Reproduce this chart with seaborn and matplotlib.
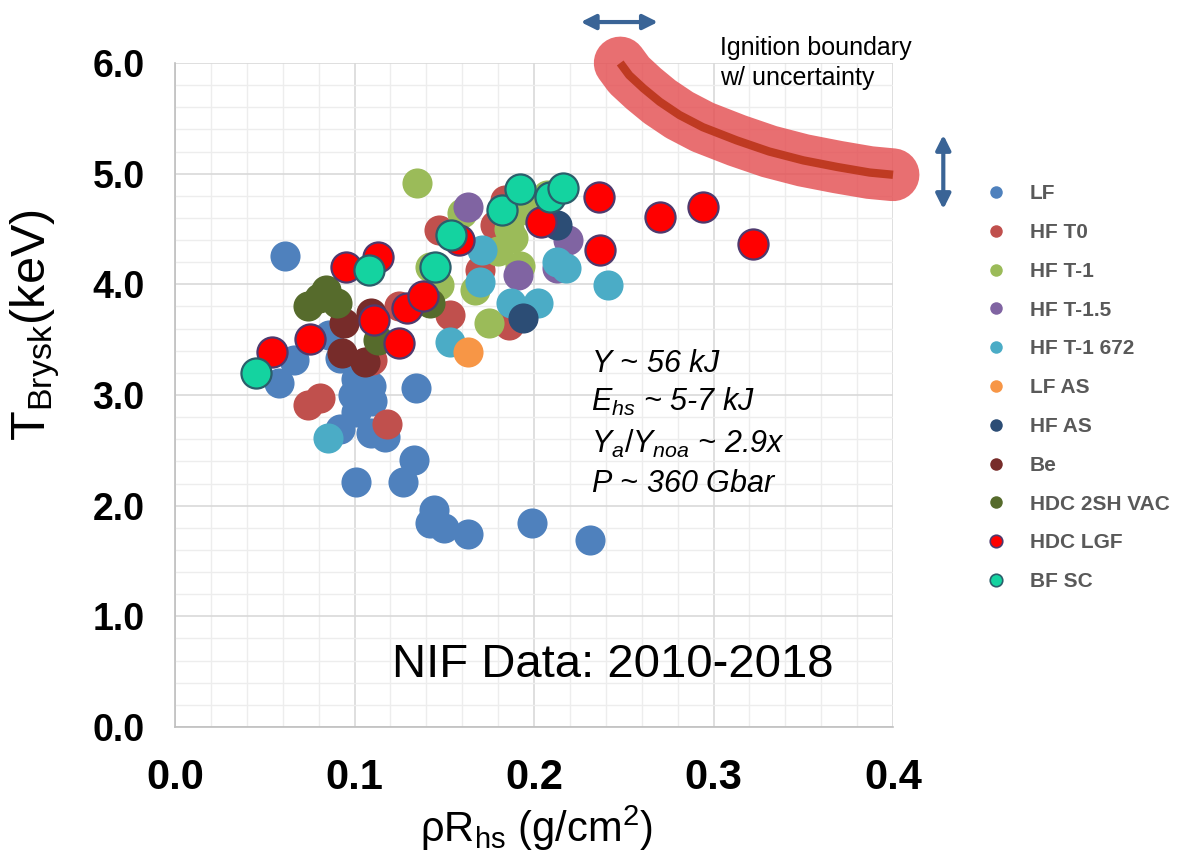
import matplotlib
matplotlib.use("Agg")
import pandas as pd
import matplotlib.pyplot as plt
from matplotlib.ticker import MultipleLocator, FormatStrFormatter
from matplotlib.lines import Line2D
import seaborn as sns

# === Data: rhoR_hs (g/cm2) and T_Brysk (keV) per shot family ===
lf_x = [0.061, 0.066, 0.058, 0.086, 0.092, 0.101, 0.109, 0.110, 0.101, 0.092, 0.109, 0.117,
        0.134, 0.133, 0.127, 0.101, 0.144, 0.142, 0.150, 0.163, 0.199, 0.231, 0.099]
lf_y = [4.26, 3.32, 3.11, 3.54, 3.33, 3.14, 3.08, 2.95, 2.85, 2.69, 2.66, 2.62,
        3.06, 2.41, 2.21, 2.21, 1.96, 1.84, 1.80, 1.74, 1.84, 1.69, 3.00]

hf_t0_x = [0.074, 0.081, 0.118, 0.147, 0.153, 0.125, 0.170, 0.178, 0.184, 0.186, 0.110]
hf_t0_y = [2.91, 2.97, 2.74, 4.49, 3.72, 3.80, 4.13, 4.54, 4.76, 3.63, 3.32]

hf_t1_x = [0.135, 0.160, 0.142, 0.147, 0.167, 0.175, 0.188, 0.192, 0.207, 0.196, 0.186, 0.180]
hf_t1_y = [4.92, 4.64, 4.16, 3.99, 3.95, 3.65, 4.42, 4.17, 4.81, 4.67, 4.50, 4.30]

hf_t15_x = [0.163, 0.191, 0.219, 0.213]
hf_t15_y = [4.70, 4.08, 4.40, 4.15]

hf_t1_672_x = [0.171, 0.170, 0.187, 0.202, 0.213, 0.218, 0.241, 0.153, 0.085]
hf_t1_672_y = [4.31, 4.02, 3.83, 3.83, 4.20, 4.15, 3.99, 3.48, 2.61]

lf_as_x = [0.163]
lf_as_y = [3.39]

hf_as_x = [0.213, 0.194]
hf_as_y = [4.54, 3.70]

be_x = [0.094, 0.109, 0.093, 0.106]
be_y = [3.65, 3.74, 3.38, 3.30]

hdc_vac_x = [0.074, 0.084, 0.090, 0.113, 0.142, 0.080]
hdc_vac_y = [3.80, 3.95, 3.83, 3.50, 3.83, 3.88]

hdc_lgf_x = [0.054, 0.075, 0.095, 0.113, 0.111, 0.125, 0.129, 0.138, 0.158, 0.204,
             0.236, 0.237, 0.270, 0.294, 0.322]
hdc_lgf_y = [3.39, 3.51, 4.16, 4.25, 3.68, 3.47, 3.79, 3.89, 4.40, 4.56,
             4.79, 4.31, 4.61, 4.70, 4.36]

bf_sc_x = [0.045, 0.108, 0.145, 0.154, 0.182, 0.192, 0.209, 0.216]
bf_sc_y = [3.20, 4.13, 4.16, 4.45, 4.67, 4.86, 4.79, 4.87]

series = ["LF", "HF T0", "HF T-1", "HF T-1.5", "HF T-1 672", "LF AS", "HF AS",
          "Be", "HDC 2SH VAC", "HDC LGF", "BF SC"]
series_x = [lf_x, hf_t0_x, hf_t1_x, hf_t15_x, hf_t1_672_x, lf_as_x, hf_as_x,
            be_x, hdc_vac_x, hdc_lgf_x, bf_sc_x]
series_y = [lf_y, hf_t0_y, hf_t1_y, hf_t15_y, hf_t1_672_y, lf_as_y, hf_as_y,
            be_y, hdc_vac_y, hdc_lgf_y, bf_sc_y]
face_colors = ["#4F81BD", "#C0504D", "#9BBB59", "#8064A2", "#4BACC6", "#F79646",
               "#2C4D75", "#772C2A", "#566B2C", "#FF0000", "#14D3A0"]
edge_colors = [None, None, None, None, None, None, None, None, None, "#4E3A6E", "#2B5E6B"]

# ignition boundary curve
boundary_x = [0.248, 0.253, 0.261, 0.270, 0.281, 0.294, 0.313, 0.331, 0.350, 0.369, 0.387, 0.400]
boundary_y = [6.00, 5.89, 5.77, 5.65, 5.53, 5.42, 5.30, 5.20, 5.12, 5.06, 5.01, 4.99]

rows = []
for name, xs, ys in zip(series, series_x, series_y):
    for x, y in zip(xs, ys):
        rows.append({"rhoR": x, "T": y, "Type": name})
df = pd.DataFrame(rows)

sns.set_theme(style="white")
plt.rcParams["font.family"] = ["Liberation Sans", "DejaVu Sans"]
plt.rcParams["mathtext.fontset"] = "custom"
plt.rcParams["mathtext.rm"] = "Liberation Sans"
plt.rcParams["mathtext.it"] = "Liberation Sans:italic"
plt.rcParams["mathtext.bf"] = "Liberation Sans:bold"
plt.rcParams["text.color"] = "black"
plt.rcParams["axes.labelcolor"] = "black"
plt.rcParams["xtick.labelcolor"] = "black"
plt.rcParams["ytick.labelcolor"] = "black"

fig = plt.figure(figsize=(11.78, 8.57), dpi=100)
ax = fig.add_axes([0.1486, 0.1517, 0.6095, 0.7748])

# === Scatter, one layer per shot family ===
for name, fc, ec in zip(series, face_colors, edge_colors):
    sub = df[df["Type"] == name]
    sns.scatterplot(x="rhoR", y="T", data=sub, ax=ax, color=fc, s=470,
                    edgecolor=ec if ec else fc, linewidth=1.6 if ec else 0,
                    legend=False, zorder=3)

# === Axes styling ===
ax.set_xlim(0, 0.4)
ax.set_ylim(0, 6.0)
ax.xaxis.set_major_locator(MultipleLocator(0.1))
ax.xaxis.set_minor_locator(MultipleLocator(0.02))
ax.yaxis.set_major_locator(MultipleLocator(1.0))
ax.yaxis.set_minor_locator(MultipleLocator(0.2))
ax.xaxis.set_major_formatter(FormatStrFormatter("%.1f"))
ax.yaxis.set_major_formatter(FormatStrFormatter("%.1f"))
ax.grid(which="major", color="#D9D9D9", lw=1.2, zorder=0)
ax.grid(which="minor", color="#EDEDED", lw=1.0, zorder=0)
ax.set_axisbelow(True)
for side in ["top", "right"]:
    ax.spines[side].set_visible(False)
for side in ["left", "bottom"]:
    ax.spines[side].set_color("#BFBFBF")
    ax.spines[side].set_linewidth(1.2)
ax.tick_params(axis="both", which="major", direction="out", length=8, width=1.2,
               color="#BFBFBF", pad=14, labelcolor="black")
ax.tick_params(axis="both", which="minor", length=0)
ax.tick_params(axis="x", labelsize=30)
ax.tick_params(axis="y", labelsize=27)
for lab in ax.get_xticklabels() + ax.get_yticklabels():
    lab.set_fontweight("bold")

ax.set_xlabel(r"ρR$_{\mathregular{hs}}$ (g/cm$^{\mathregular{2}}$)", fontsize=30)
ax.set_ylabel(r"T$_{\mathregular{Brysk}}$(keV)", fontsize=35)
ax.xaxis.set_label_coords(0.503, -0.115)
ax.yaxis.set_label_coords(-0.158, 0.605)

# === Ignition boundary ===
ax.plot(boundary_x, boundary_y, color="#E44F52", alpha=0.82, lw=38,
        solid_capstyle="round", solid_joinstyle="round", clip_on=False, zorder=4)
ax.plot(boundary_x, boundary_y, color="#BF3A22", lw=6,
        solid_capstyle="butt", solid_joinstyle="round", clip_on=False, zorder=5)

arrow_style = dict(arrowstyle="<|-|>", color="#3A6496", lw=3, mutation_scale=22,
                   shrinkA=0, shrinkB=0)
ax.annotate("", xy=(0.269, 6.37), xytext=(0.226, 6.37), arrowprops=arrow_style,
            annotation_clip=False)
ax.annotate("", xy=(0.428, 4.68), xytext=(0.428, 5.35), arrowprops=arrow_style,
            annotation_clip=False)
ax.text(0.3036, 6.0, "Ignition boundary\nw/ uncertainty", fontsize=18,
        va="center", ha="left", linespacing=1.3, clip_on=False)

# === Annotations ===
stats = [r"$Y$ ~ 56 kJ", r"$E_{hs}$ ~ 5-7 kJ", r"$Y_{a}/Y_{noa}$ ~ 2.9x", r"$P$ ~ 360 Gbar"]
stats_y = [3.21, 2.86, 2.48, 2.12]
for s, yy in zip(stats, stats_y):
    ax.text(0.232, yy, s, fontsize=22, style="italic", va="baseline", ha="left")
ax.text(0.121, 0.45, "NIF Data: 2010-2018", fontsize=34, va="baseline", ha="left")

# === Legend ===
handles = [Line2D([], [], ls="", marker="o", markersize=9, markerfacecolor=fc,
                  markeredgecolor=ec if ec else fc, markeredgewidth=1.2 if ec else 0)
           for fc, ec in zip(face_colors, edge_colors)]
leg = fig.legend(handles, series, loc="upper left", bbox_to_anchor=(0.837, 0.785),
                 frameon=False, borderpad=0, borderaxespad=0, handlelength=1.0,
                 handletextpad=1.1, labelspacing=0.95,
                 prop={"size": 15, "weight": "bold"})
for t in leg.get_texts():
    t.set_color("#595959")

fig.savefig("out.png", dpi=100)
